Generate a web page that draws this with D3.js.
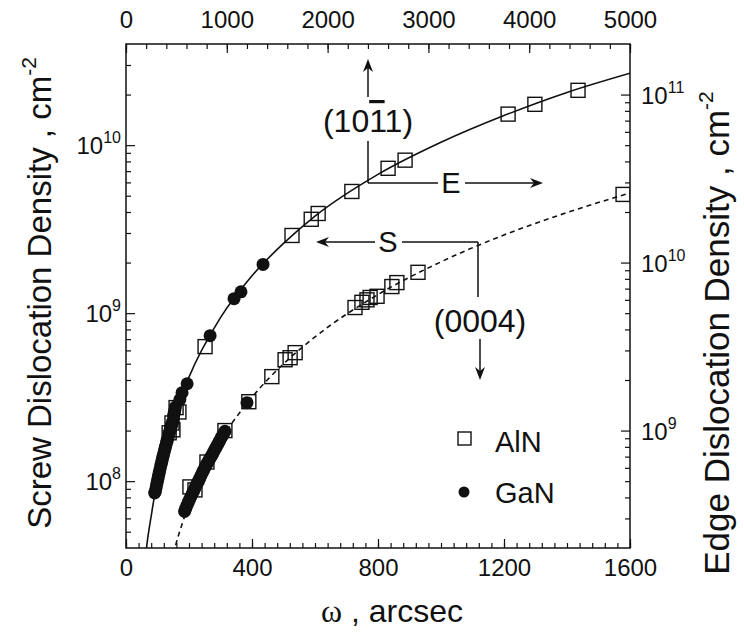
<!DOCTYPE html>
<html lang="en">
<head>
  <meta charset="UTF-8">
  <title>Dislocation density vs rocking curve width</title>
  <script src="https://d3js.org/d3.v7.min.js"></script>
  <style>
    body { margin: 0; background: #fff; }
    svg text { font-family: "Liberation Sans", Arial, sans-serif; fill: #111; }
  </style>
</head>
<body>
  <div id="chart"></div>
  <script>
    // fitted curves
    const solidOmega = [62, 70, 80, 90, 100, 120, 150, 200, 300, 400, 500, 600, 800, 1000, 1200, 1400, 1600];
    const solidEdge = [1.8e8, 2.36e8, 3.1e8, 4.03e8, 5.0e8, 7.33e8, 1.16e9, 2.08e9, 4.7e9, 8.35e9, 1.3e10, 1.89e10, 3.35e10, 5.2e10, 7.5e10, 1.03e11, 1.34e11];
    const dashedOmega = [150, 160, 180, 200, 225, 250, 300, 400, 500, 600, 800, 1000, 1200, 1400, 1600];
    const dashedScrew = [3.69e7, 4.32e7, 5.7e7, 7.25e7, 9.4e7, 1.18e8, 1.74e8, 3.16e8, 4.99e8, 7.22e8, 1.29e9, 2.02e9, 2.92e9, 3.97e9, 5.19e9];

    // (10-11) reflection -> edge density (right axis)
    const alnEdgeOmega = [137, 146, 149, 159, 168, 251, 527, 588, 610, 717, 832, 886, 1213, 1298, 1435];
    const alnEdge = [9.7e8, 1.11e9, 1.01e9, 1.37e9, 1.29e9, 3.16e9, 1.45e10, 1.81e10, 1.96e10, 2.65e10, 3.64e10, 4.07e10, 7.65e10, 8.75e10, 1.06e11];
    const ganEdgeOmega = [91, 93, 95, 97, 99, 101, 103, 105, 107, 109, 111, 113, 115, 117, 119, 121, 123, 125, 127, 129, 131, 133, 135, 137, 139, 141, 143, 145, 147, 149, 151, 153, 155, 157, 171, 178, 194, 267, 343, 365, 435];
    const ganEdge = [4.25e8, 4.32e8, 4.52e8, 4.72e8, 4.92e8, 5.13e8, 5.34e8, 5.56e8, 5.78e8, 6.01e8, 6.24e8, 6.48e8, 6.71e8, 6.96e8, 7.2e8, 7.46e8, 7.71e8, 7.97e8, 8.23e8, 8.5e8, 8.77e8, 9.05e8, 9.33e8, 9.62e8, 9.91e8, 1.02e9, 1.05e9, 1.08e9, 1.11e9, 1.14e9, 1.22e9, 1.27e9, 1.32e9, 1.38e9, 1.53e9, 1.68e9, 1.9e9, 3.67e9, 6.1e9, 6.7e9, 9.75e9];

    // (0004) reflection -> screw density (left axis)
    const alnScrewOmega = [203, 219, 257, 314, 390, 463, 505, 521, 537, 727, 749, 765, 775, 797, 844, 860, 927, 1578];
    const alnScrew = [9.24e7, 8.87e7, 1.3e8, 2.0e8, 2.97e8, 4.19e8, 5.28e8, 5.43e8, 5.82e8, 1.08e9, 1.16e9, 1.2e9, 1.24e9, 1.26e9, 1.44e9, 1.52e9, 1.75e9, 5.09e9];
    const ganScrewOmega = [186, 190, 194, 198, 202, 206, 210, 214, 218, 222, 226, 230, 234, 238, 242, 246, 250, 254, 258, 262, 266, 270, 274, 278, 282, 286, 290, 294, 298, 302, 306, 310, 314, 384];
    const ganScrew = [6.6e7, 6.9e7, 7.2e7, 7.5e7, 7.8e7, 8.1e7, 8.4e7, 8.7e7, 9.0e7, 9.4e7, 9.7e7, 1.0e8, 1.04e8, 1.08e8, 1.12e8, 1.16e8, 1.2e8, 1.24e8, 1.28e8, 1.32e8, 1.36e8, 1.4e8, 1.44e8, 1.49e8, 1.54e8, 1.59e8, 1.64e8, 1.69e8, 1.75e8, 1.81e8, 1.86e8, 1.92e8, 1.98e8, 2.93e8];

    const bottomTicks = [0, 400, 800, 1200, 1600];
    const topTicks = [0, 1000, 2000, 3000, 4000, 5000];
    const leftTicks = [1e8, 1e9, 1e10];
    const rightTicks = [1e9, 1e10, 1e11];

    const width = 744, height = 637;
    const fx0 = 126, fx1 = 630, fy0 = 44, fy1 = 548;
    const ink = "#111";

    const svg = d3.select("#chart").append("svg")
      .attr("width", width)
      .attr("height", height);

    const x = d3.scaleLinear().domain([0, 1600]).range([fx0, fx1]);
    const xTop = d3.scaleLinear().domain([0, 5000]).range([fx0, fx1]);
    const yL = d3.scaleLog().domain([4e7, 4e10]).range([fy1, fy0]);
    const yR = d3.scaleLog().domain([2e8, 2e11]).range([fy1, fy0]);

    function minorLog(lo, hi) {
      const out = [];
      for (let e = Math.floor(Math.log10(lo)); e <= Math.ceil(Math.log10(hi)); e++) {
        for (let m = 2; m <= 9; m++) {
          const v = m * Math.pow(10, e);
          if (v > lo && v < hi) out.push(v);
        }
      }
      return out;
    }

    function styleAxis(g) {
      g.select(".domain").remove();
      g.selectAll("line").attr("stroke", ink).attr("stroke-width", 1.2);
    }

    // ticks (pointing inward)
    svg.append("g").attr("transform", `translate(0,${fy1})`)
      .call(d3.axisBottom(x).tickValues(d3.range(0, 1601, 40)).tickSizeInner(-5).tickSizeOuter(0).tickFormat(""))
      .call(styleAxis);
    svg.append("g").attr("transform", `translate(0,${fy1})`)
      .call(d3.axisBottom(x).tickValues(bottomTicks).tickSizeInner(-9).tickSizeOuter(0).tickPadding(10).tickFormat(d3.format("d")))
      .call(styleAxis)
      .selectAll("text").attr("font-size", 24).attr("fill", ink).attr("dy", "0.75em");

    svg.append("g").attr("transform", `translate(0,${fy0})`)
      .call(d3.axisTop(xTop).tickValues(d3.range(0, 5001, 200)).tickSizeInner(-5).tickSizeOuter(0).tickFormat(""))
      .call(styleAxis);
    svg.append("g").attr("transform", `translate(0,${fy0})`)
      .call(d3.axisTop(xTop).tickValues(topTicks).tickSizeInner(-9).tickSizeOuter(0).tickPadding(16).tickFormat(d3.format("d")))
      .call(styleAxis)
      .selectAll("text").attr("font-size", 24).attr("fill", ink);

    svg.append("g").attr("transform", `translate(${fx0},0)`)
      .call(d3.axisLeft(yL).tickValues(minorLog(4e7, 4e10)).tickSizeInner(-5).tickSizeOuter(0).tickFormat(""))
      .call(styleAxis);
    svg.append("g").attr("transform", `translate(${fx0},0)`)
      .call(d3.axisLeft(yL).tickValues(leftTicks).tickSizeInner(-9).tickSizeOuter(0).tickFormat(""))
      .call(styleAxis);

    svg.append("g").attr("transform", `translate(${fx1},0)`)
      .call(d3.axisRight(yR).tickValues(minorLog(2e8, 2e11)).tickSizeInner(-5).tickSizeOuter(0).tickFormat(""))
      .call(styleAxis);
    svg.append("g").attr("transform", `translate(${fx1},0)`)
      .call(d3.axisRight(yR).tickValues(rightTicks).tickSizeInner(-9).tickSizeOuter(0).tickFormat(""))
      .call(styleAxis);

    // power-of-ten labels
    function powLabel(sel, v) {
      sel.append("tspan").attr("font-size", 24).text("10");
      sel.append("tspan").attr("font-size", 16).attr("dy", -11).text(Math.round(Math.log10(v)));
    }
    leftTicks.forEach(v => {
      svg.append("text").attr("x", 121).attr("y", yL(v) + 9).attr("text-anchor", "end").call(powLabel, v);
    });
    rightTicks.forEach(v => {
      svg.append("text").attr("x", 641).attr("y", yR(v) + 9).call(powLabel, v);
    });

    svg.append("rect")
      .attr("x", fx0).attr("y", fy0)
      .attr("width", fx1 - fx0).attr("height", fy1 - fy0)
      .attr("fill", "none").attr("stroke", ink).attr("stroke-width", 1.5);

    // axis titles
    const lt = svg.append("text")
      .attr("transform", `translate(51,293) rotate(-90)`)
      .attr("text-anchor", "middle")
      .attr("font-size", 33);
    lt.append("tspan").text("Screw Dislocation Density , cm");
    lt.append("tspan").attr("font-size", 21).attr("dy", -15).text("-2");

    const rt = svg.append("text")
      .attr("transform", `translate(729,333) rotate(-90)`)
      .attr("text-anchor", "middle")
      .attr("font-size", 35);
    rt.append("tspan").text("Edge Dislocation Density , cm");
    rt.append("tspan").attr("font-size", 21).attr("dy", -16).text("-2");

    const bt = svg.append("text")
      .attr("x", 392).attr("y", 622)
      .attr("text-anchor", "middle")
      .attr("font-size", 32);
    bt.append("tspan").attr("font-family", "'Liberation Serif', serif").text("ω");
    bt.append("tspan").text(" , arcsec");

    // curves
    svg.append("clipPath").attr("id", "frame")
      .append("rect").attr("x", fx0).attr("y", fy0).attr("width", fx1 - fx0).attr("height", fy1 - fy0);
    const plot = svg.append("g").attr("clip-path", "url(#frame)");

    const lineR = d3.line().x(d => x(d[0])).y(d => yR(d[1])).curve(d3.curveMonotoneX);
    const lineL = d3.line().x(d => x(d[0])).y(d => yL(d[1])).curve(d3.curveMonotoneX);

    plot.append("path")
      .attr("d", lineR(d3.zip(solidOmega, solidEdge)))
      .attr("fill", "none").attr("stroke", ink).attr("stroke-width", 1.6);
    plot.append("path")
      .attr("d", lineL(d3.zip(dashedOmega, dashedScrew)))
      .attr("fill", "none").attr("stroke", ink).attr("stroke-width", 1.6)
      .attr("stroke-dasharray", "5,4");

    // markers
    const sq = 14, r = 6.5;
    function squares(om, vals, y) {
      plot.append("g").selectAll("rect")
        .data(d3.zip(om, vals))
        .join("rect")
        .attr("x", d => x(d[0]) - sq / 2)
        .attr("y", d => y(d[1]) - sq / 2)
        .attr("width", sq).attr("height", sq)
        .attr("fill", "none").attr("stroke", ink).attr("stroke-width", 1.4);
    }
    function dots(om, vals, y) {
      plot.append("g").selectAll("circle")
        .data(d3.zip(om, vals))
        .join("circle")
        .attr("cx", d => x(d[0]))
        .attr("cy", d => y(d[1]))
        .attr("r", r)
        .attr("fill", ink);
    }
    dots(ganEdgeOmega, ganEdge, yR);
    squares(alnEdgeOmega, alnEdge, yR);
    dots(ganScrewOmega, ganScrew, yL);
    squares(alnScrewOmega, alnScrew, yL);

    // annotations
    function seg(x1, y1, x2, y2) {
      svg.append("line").attr("x1", x1).attr("y1", y1).attr("x2", x2).attr("y2", y2)
        .attr("stroke", ink).attr("stroke-width", 1.5);
    }
    function head(tx, ty, dir) {
      const L = 13, W = 5, n = 4;
      const pts = {
        up: [[tx, ty], [tx - W, ty + L], [tx, ty + L - n], [tx + W, ty + L]],
        down: [[tx, ty], [tx - W, ty - L], [tx, ty - L + n], [tx + W, ty - L]],
        left: [[tx, ty], [tx + L, ty - W], [tx + L - n, ty], [tx + L, ty + W]],
        right: [[tx, ty], [tx - L, ty - W], [tx - L + n, ty], [tx - L, ty + W]]
      }[dir];
      svg.append("path").attr("d", "M" + pts.join("L") + "Z").attr("fill", ink);
    }

    // (10-11) / E
    seg(368, 97, 368, 66); head(368, 59, "up");
    const t1 = svg.append("text").attr("x", 368).attr("y", 132).attr("text-anchor", "middle").attr("font-size", 32);
    t1.append("tspan").text("(10");
    t1.append("tspan").attr("text-decoration", "overline").text("1");
    t1.append("tspan").text("1)");
    seg(368, 141, 368, 183);
    seg(368, 183, 438, 183);
    svg.append("text").attr("x", 451).attr("y", 193).attr("text-anchor", "middle").attr("font-size", 29).text("E");
    seg(465, 183, 536, 183); head(543, 183, "right");

    // S / (0004)
    seg(478, 242, 402, 242);
    svg.append("text").attr("x", 388).attr("y", 252).attr("text-anchor", "middle").attr("font-size", 29).text("S");
    seg(375, 242, 323, 242); head(316, 242, "left");
    seg(478, 242, 478, 297);
    svg.append("text").attr("x", 480).attr("y", 332).attr("text-anchor", "middle").attr("font-size", 32).text("(0004)");
    seg(480, 339, 480, 373); head(480, 380, "down");

    // legend
    svg.append("rect").attr("x", 458).attr("y", 432).attr("width", 13).attr("height", 13)
      .attr("fill", "none").attr("stroke", ink).attr("stroke-width", 1.4);
    svg.append("text").attr("x", 495).attr("y", 452).attr("font-size", 29).text("AlN");
    svg.append("circle").attr("cx", 464).attr("cy", 492).attr("r", 5.5).attr("fill", ink);
    svg.append("text").attr("x", 495).attr("y", 503).attr("font-size", 29).text("GaN");
  </script>
</body>
</html>
